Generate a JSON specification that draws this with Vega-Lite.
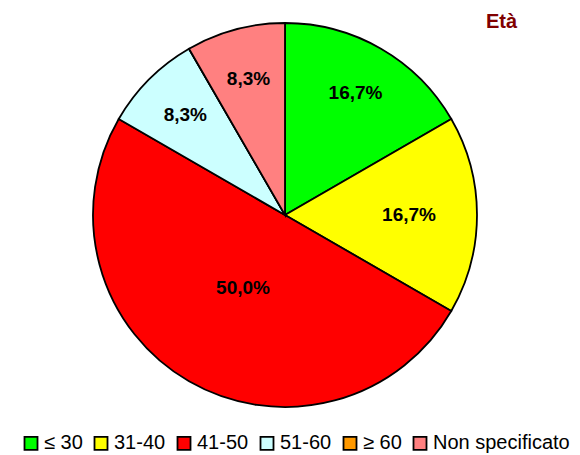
{
  "$schema": "https://vega.github.io/schema/vega-lite/v6.json",
  "width": 580,
  "height": 370,
  "autosize": {"type": "none"},
  "padding": {"top": 30, "left": 0, "right": 0, "bottom": 55},
  "background": "white",
  "title": {"text": "Età", "anchor": "end", "frame": "group", "dx": -63, "dy": 19, "offset": 6, "font": "Liberation Sans", "fontSize": 20, "fontWeight": "bold", "color": "#800000"},
  "data": {"values": [
    {"cat": "≤ 30", "n": 2, "idx": 1, "pct": "16,7%"},
    {"cat": "31-40", "n": 2, "idx": 2, "pct": "16,7%"},
    {"cat": "41-50", "n": 6, "idx": 3, "pct": "50,0%"},
    {"cat": "51-60", "n": 1, "idx": 4, "pct": "8,3%"},
    {"cat": "≥ 60", "n": 0, "idx": 5, "pct": ""},
    {"cat": "Non specificato", "n": 1, "idx": 6, "pct": "8,3%"}
  ]},
  "encoding": {
    "theta": {"field": "n", "type": "quantitative", "stack": true},
    "order": {"field": "idx", "type": "quantitative"}
  },
  "layer": [
    {
      "mark": {"type": "arc", "outerRadius": 192, "stroke": "black", "strokeWidth": 1.8, "x": {"expr": "285"}, "y": {"expr": "185"}},
      "encoding": {
        "color": {
          "field": "cat", "type": "nominal",
          "scale": {"domain": ["≤ 30", "31-40", "41-50", "51-60", "≥ 60", "Non specificato"], "range": ["#00FF00", "#FFFF00", "#FF0000", "#CCFFFF", "#FF9900", "#FF8080"]},
          "legend": {
            "title": null, "orient": "none", "direction": "horizontal", "legendX": 21, "legendY": 403,
            "symbolType": "square", "symbolSize": 169, "symbolStrokeColor": "black", "symbolStrokeWidth": 1.8, "symbolOpacity": 1,
            "labelFont": "Liberation Sans", "labelFontSize": 20, "labelColor": "black", "labelOffset": 3, "columnPadding": 7, "labelLimit": 300
          }
        }
      }
    },
    {
      "mark": {"type": "text", "radius": {"expr": "datum.cat == '41-50' ? 84 : datum.cat == '31-40' ? 124 : 141"}, "font": "Liberation Sans", "fontSize": 19, "fontWeight": "bold", "color": "black", "x": {"expr": "285"}, "y": {"expr": "185"}},
      "encoding": {"text": {"field": "pct"}}
    }
  ]
}
